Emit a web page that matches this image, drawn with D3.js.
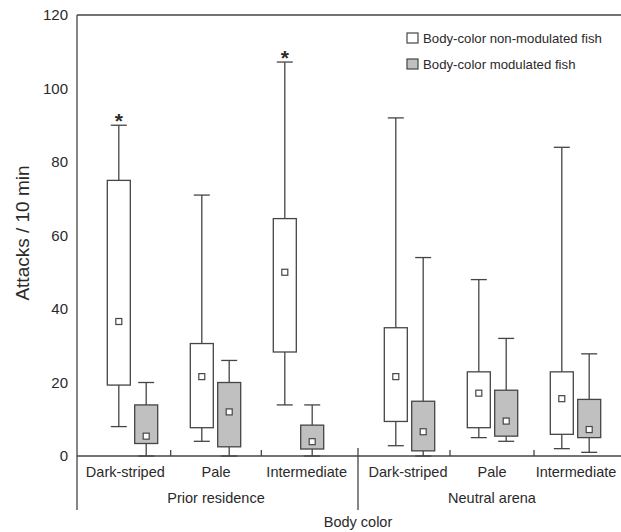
<!DOCTYPE html>
<html>
<head>
<meta charset="utf-8">
<script src="https://cdn.jsdelivr.net/npm/d3@7/dist/d3.min.js"></script>
<style>
  html, body { margin: 0; padding: 0; background: #fff; }
  svg { display: block; }
  text { font-family: "Liberation Sans", Arial, sans-serif; fill: #2a2a2a; }
</style>
</head>
<body>
<svg id="chart" width="621" height="532"></svg>
<script>
// ---- data ----
const groups = ["Prior residence", "Neutral arena"];
const colors = ["Dark-striped", "Pale", "Intermediate"];
const seriesNames = ["Body-color non-modulated fish", "Body-color modulated fish"];
const yTicks = [0, 20, 40, 60, 80, 100, 120];

// order: PR Dark-striped, PR Pale, PR Intermediate, NA Dark-striped, NA Pale, NA Intermediate
const nonModLow  = [8, 4, 13.9, 2.8, 5, 2];
const nonModQ1   = [19.3, 7.7, 28.3, 9.4, 7.7, 5.9];
const nonModQ3   = [75, 30.6, 64.6, 34.9, 22.9, 22.9];
const nonModHigh = [90, 71, 107.2, 92, 48, 84];
const nonModMean = [36.6, 21.6, 50, 21.6, 17.1, 15.6];
const nonModSig  = [true, false, true, false, false, false];

const modLow  = [0, 0, 0, 0, 4, 1];
const modQ1   = [3.4, 2.5, 1.9, 1.4, 5.4, 5.0];
const modQ3   = [13.9, 20, 8.4, 14.9, 17.9, 15.4];
const modHigh = [20, 26, 13.9, 54, 32, 27.8];
const modMean = [5.4, 12, 3.9, 6.6, 9.5, 7.2];
const modSig  = [false, false, false, false, false, false];

// ---- build table ----
const seriesData = [
  {name: seriesNames[0], low: nonModLow, q1: nonModQ1, q3: nonModQ3, high: nonModHigh, mean: nonModMean, sig: nonModSig, fill: "#ffffff"},
  {name: seriesNames[1], low: modLow, q1: modQ1, q3: modQ3, high: modHigh, mean: modMean, sig: modSig, fill: "#c0c0c0"}
];
const cells = [];
groups.forEach((g, gi) => colors.forEach((c, ci) => {
  const idx = gi * colors.length + ci;
  seriesData.forEach(s => cells.push({
    group: g, gi: gi, color: c, series: s.name, fill: s.fill,
    low: s.low[idx], q1: s.q1[idx], q3: s.q3[idx], high: s.high[idx], mean: s.mean[idx], sig: s.sig[idx]
  }));
}));

// ---- layout ----
const stroke = "#454545";
const sw = 1.3;
const svg = d3.select("#chart");
const mLeft = 77, mTop = 15, mBottom = 456, mRight = 621, sepX = 358;

const y = d3.scaleLinear().domain([0, 120]).range([mBottom, mTop]);
// per-group band scales: boxes and labels/ticks
const xBox = [
  d3.scaleBand().domain(colors).range([91, 340]),
  d3.scaleBand().domain(colors).range([368, 617])
];
const xLab = [
  d3.scaleBand().domain(colors).range([mLeft + 3, sepX - 6]),
  d3.scaleBand().domain(colors).range([sepX + 8, mRight - 3])
];
const xSer = d3.scaleBand().domain(seriesNames).range([-25.2, 25.2]).paddingInner(0.16);

const cx = d => xBox[d.gi](d.color) + xBox[d.gi].bandwidth() / 2 + xSer(d.series) + xSer.bandwidth() / 2;
const bw = xSer.bandwidth();
const capW = 16;

function hline(x1, x2, yy) {
  svg.append("line").attr("x1", x1).attr("x2", x2).attr("y1", yy).attr("y2", yy)
    .attr("stroke", stroke).attr("stroke-width", sw);
}
function vline(xx, y1, y2) {
  svg.append("line").attr("x1", xx).attr("x2", xx).attr("y1", y1).attr("y2", y2)
    .attr("stroke", stroke).attr("stroke-width", sw);
}

// frame lines
hline(mLeft, mRight, mTop);
vline(mLeft, mTop, 510);
hline(mLeft, mRight, mBottom);
// group separator
vline(sepX, mBottom - 8, 510);
// category boundary ticks
groups.forEach((g, gi) => {
  colors.slice(1).forEach(c => vline(xLab[gi](c), mBottom - 6, mBottom));
});

// y tick labels
svg.append("g").selectAll("text").data(yTicks).join("text")
  .attr("x", 68).attr("y", d => y(d)).attr("dy", "0.36em")
  .attr("text-anchor", "end").style("font-size", "15px").text(d => d);

// y axis title
svg.append("text").attr("transform", "translate(29,233) rotate(-90)")
  .attr("text-anchor", "middle").style("font-size", "19px").text("Attacks / 10 min");

// category labels
groups.forEach((g, gi) => {
  colors.forEach(c => {
    svg.append("text").attr("x", xLab[gi](c) + xLab[gi].bandwidth() / 2).attr("y", 477)
      .attr("text-anchor", "middle").style("font-size", "14.5px").text(c);
  });
  svg.append("text").attr("x", xLab[gi](colors[1]) + xLab[gi].bandwidth() / 2).attr("y", 503)
    .attr("text-anchor", "middle").style("font-size", "14.5px").text(g);
});
svg.append("text").attr("x", sepX).attr("y", 527)
  .attr("text-anchor", "middle").style("font-size", "14.5px").text("Body color");

// boxes
const bx = svg.append("g").selectAll("g").data(cells).join("g");
bx.append("line").attr("x1", cx).attr("x2", cx).attr("y1", d => y(d.high)).attr("y2", d => y(d.q3))
  .attr("stroke", stroke).attr("stroke-width", sw);
bx.append("line").attr("x1", cx).attr("x2", cx).attr("y1", d => y(d.q1)).attr("y2", d => y(d.low))
  .attr("stroke", stroke).attr("stroke-width", sw);
bx.append("line").attr("x1", d => cx(d) - capW / 2).attr("x2", d => cx(d) + capW / 2)
  .attr("y1", d => y(d.high)).attr("y2", d => y(d.high)).attr("stroke", stroke).attr("stroke-width", sw);
bx.append("line").attr("x1", d => cx(d) - capW / 2).attr("x2", d => cx(d) + capW / 2)
  .attr("y1", d => y(d.low)).attr("y2", d => y(d.low)).attr("stroke", stroke).attr("stroke-width", sw);
bx.append("rect").attr("x", d => cx(d) - bw / 2).attr("width", bw)
  .attr("y", d => y(d.q3)).attr("height", d => y(d.q1) - y(d.q3))
  .attr("fill", d => d.fill).attr("stroke", stroke).attr("stroke-width", sw);
bx.append("rect").attr("x", d => cx(d) - 3).attr("width", 6)
  .attr("y", d => y(d.mean) - 3).attr("height", 6)
  .attr("fill", "#fff").attr("stroke", stroke).attr("stroke-width", 1.2);
bx.filter(d => d.sig).append("text").attr("x", cx).attr("y", d => y(d.high) + 3)
  .attr("text-anchor", "middle").style("font-size", "21px").style("font-weight", "bold").text("*");

// legend
const lg = svg.append("g").selectAll("g").data(seriesData).join("g")
  .attr("transform", (d, i) => `translate(407,${33 + i * 26})`);
lg.append("rect").attr("width", 11).attr("height", 10)
  .attr("fill", d => d.fill).attr("stroke", stroke).attr("stroke-width", 1.2);
lg.append("text").attr("x", 16).attr("y", 5).attr("dy", "0.36em")
  .style("font-size", "13.2px").text(d => d.name);
</script>
</body>
</html>
